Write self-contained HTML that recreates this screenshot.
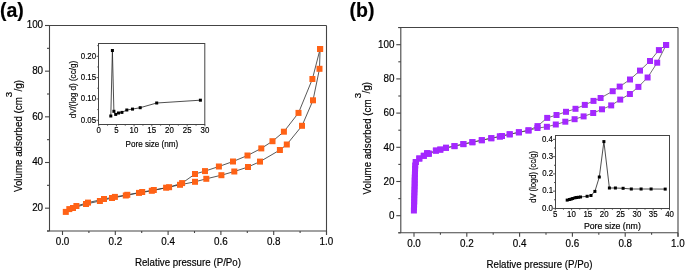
<!DOCTYPE html>
<html><head><meta charset="utf-8"><style>
html,body{margin:0;padding:0;background:#fff;}
svg{display:block;will-change:transform;}
text{font-family:"Liberation Sans", sans-serif;fill:#000;stroke:#000;stroke-width:0.18px;}
</style></head><body>
<svg width="685" height="271" viewBox="0 0 685 271">
<rect width="685" height="271" fill="#fff"/>
<g id="axes" shape-rendering="auto">
<line x1="49.50" y1="25.50" x2="49.50" y2="231.00" stroke="#444444" stroke-width="1.1"/>
<line x1="45.00" y1="25.50" x2="326.50" y2="25.50" stroke="#444444" stroke-width="1.1"/>
<line x1="326.50" y1="25.50" x2="326.50" y2="235.00" stroke="#444444" stroke-width="1.1"/>
<line x1="47.00" y1="231.00" x2="326.50" y2="231.00" stroke="#444444" stroke-width="1.1"/>
<line x1="45.00" y1="208.17" x2="49.50" y2="208.17" stroke="#444444" stroke-width="1.1"/>
<line x1="45.00" y1="162.50" x2="49.50" y2="162.50" stroke="#444444" stroke-width="1.1"/>
<line x1="45.00" y1="116.83" x2="49.50" y2="116.83" stroke="#444444" stroke-width="1.1"/>
<line x1="45.00" y1="71.17" x2="49.50" y2="71.17" stroke="#444444" stroke-width="1.1"/>
<line x1="45.00" y1="25.50" x2="49.50" y2="25.50" stroke="#444444" stroke-width="1.1"/>
<line x1="47.00" y1="231.00" x2="49.50" y2="231.00" stroke="#444444" stroke-width="1.1"/>
<line x1="47.00" y1="185.33" x2="49.50" y2="185.33" stroke="#444444" stroke-width="1.1"/>
<line x1="47.00" y1="139.67" x2="49.50" y2="139.67" stroke="#444444" stroke-width="1.1"/>
<line x1="47.00" y1="94.00" x2="49.50" y2="94.00" stroke="#444444" stroke-width="1.1"/>
<line x1="47.00" y1="48.33" x2="49.50" y2="48.33" stroke="#444444" stroke-width="1.1"/>
<line x1="62.50" y1="231.00" x2="62.50" y2="235.00" stroke="#444444" stroke-width="1.1"/>
<line x1="88.90" y1="231.00" x2="88.90" y2="233.00" stroke="#444444" stroke-width="1.1"/>
<line x1="115.30" y1="231.00" x2="115.30" y2="235.00" stroke="#444444" stroke-width="1.1"/>
<line x1="141.70" y1="231.00" x2="141.70" y2="233.00" stroke="#444444" stroke-width="1.1"/>
<line x1="168.10" y1="231.00" x2="168.10" y2="235.00" stroke="#444444" stroke-width="1.1"/>
<line x1="194.50" y1="231.00" x2="194.50" y2="233.00" stroke="#444444" stroke-width="1.1"/>
<line x1="220.90" y1="231.00" x2="220.90" y2="235.00" stroke="#444444" stroke-width="1.1"/>
<line x1="247.30" y1="231.00" x2="247.30" y2="233.00" stroke="#444444" stroke-width="1.1"/>
<line x1="273.70" y1="231.00" x2="273.70" y2="235.00" stroke="#444444" stroke-width="1.1"/>
<line x1="300.10" y1="231.00" x2="300.10" y2="233.00" stroke="#444444" stroke-width="1.1"/>
<line x1="326.50" y1="231.00" x2="326.50" y2="235.00" stroke="#444444" stroke-width="1.1"/>
<line x1="400.80" y1="27.50" x2="400.80" y2="232.80" stroke="#444444" stroke-width="1.1"/>
<line x1="398.30" y1="27.50" x2="678.00" y2="27.50" stroke="#444444" stroke-width="1.1"/>
<line x1="678.00" y1="27.50" x2="678.00" y2="236.80" stroke="#444444" stroke-width="1.1"/>
<line x1="398.30" y1="232.80" x2="678.00" y2="232.80" stroke="#444444" stroke-width="1.1"/>
<line x1="396.30" y1="215.70" x2="400.80" y2="215.70" stroke="#444444" stroke-width="1.1"/>
<line x1="396.30" y1="181.50" x2="400.80" y2="181.50" stroke="#444444" stroke-width="1.1"/>
<line x1="396.30" y1="147.30" x2="400.80" y2="147.30" stroke="#444444" stroke-width="1.1"/>
<line x1="396.30" y1="113.10" x2="400.80" y2="113.10" stroke="#444444" stroke-width="1.1"/>
<line x1="396.30" y1="78.90" x2="400.80" y2="78.90" stroke="#444444" stroke-width="1.1"/>
<line x1="396.30" y1="44.70" x2="400.80" y2="44.70" stroke="#444444" stroke-width="1.1"/>
<line x1="398.30" y1="232.80" x2="400.80" y2="232.80" stroke="#444444" stroke-width="1.1"/>
<line x1="398.30" y1="198.60" x2="400.80" y2="198.60" stroke="#444444" stroke-width="1.1"/>
<line x1="398.30" y1="164.40" x2="400.80" y2="164.40" stroke="#444444" stroke-width="1.1"/>
<line x1="398.30" y1="130.20" x2="400.80" y2="130.20" stroke="#444444" stroke-width="1.1"/>
<line x1="398.30" y1="96.00" x2="400.80" y2="96.00" stroke="#444444" stroke-width="1.1"/>
<line x1="398.30" y1="61.80" x2="400.80" y2="61.80" stroke="#444444" stroke-width="1.1"/>
<line x1="398.30" y1="27.60" x2="400.80" y2="27.60" stroke="#444444" stroke-width="1.1"/>
<line x1="414.00" y1="232.80" x2="414.00" y2="236.80" stroke="#444444" stroke-width="1.1"/>
<line x1="440.40" y1="232.80" x2="440.40" y2="234.80" stroke="#444444" stroke-width="1.1"/>
<line x1="466.80" y1="232.80" x2="466.80" y2="236.80" stroke="#444444" stroke-width="1.1"/>
<line x1="493.20" y1="232.80" x2="493.20" y2="234.80" stroke="#444444" stroke-width="1.1"/>
<line x1="519.60" y1="232.80" x2="519.60" y2="236.80" stroke="#444444" stroke-width="1.1"/>
<line x1="546.00" y1="232.80" x2="546.00" y2="234.80" stroke="#444444" stroke-width="1.1"/>
<line x1="572.40" y1="232.80" x2="572.40" y2="236.80" stroke="#444444" stroke-width="1.1"/>
<line x1="598.80" y1="232.80" x2="598.80" y2="234.80" stroke="#444444" stroke-width="1.1"/>
<line x1="625.20" y1="232.80" x2="625.20" y2="236.80" stroke="#444444" stroke-width="1.1"/>
<line x1="651.60" y1="232.80" x2="651.60" y2="234.80" stroke="#444444" stroke-width="1.1"/>
<line x1="678.00" y1="232.80" x2="678.00" y2="236.80" stroke="#444444" stroke-width="1.1"/>
<rect x="98.5" y="43.5" width="106.30000000000001" height="81.0" fill="#fff" stroke="#444444" stroke-width="1"/>
<line x1="96.50" y1="120.24" x2="98.50" y2="120.24" stroke="#444444" stroke-width="0.9"/>
<line x1="97.30" y1="109.58" x2="98.50" y2="109.58" stroke="#444444" stroke-width="0.9"/>
<line x1="96.50" y1="98.92" x2="98.50" y2="98.92" stroke="#444444" stroke-width="0.9"/>
<line x1="97.30" y1="88.26" x2="98.50" y2="88.26" stroke="#444444" stroke-width="0.9"/>
<line x1="96.50" y1="77.61" x2="98.50" y2="77.61" stroke="#444444" stroke-width="0.9"/>
<line x1="97.30" y1="66.95" x2="98.50" y2="66.95" stroke="#444444" stroke-width="0.9"/>
<line x1="96.50" y1="56.29" x2="98.50" y2="56.29" stroke="#444444" stroke-width="0.9"/>
<line x1="97.30" y1="45.63" x2="98.50" y2="45.63" stroke="#444444" stroke-width="0.9"/>
<line x1="98.70" y1="124.50" x2="98.70" y2="126.30" stroke="#444444" stroke-width="0.9"/>
<line x1="116.40" y1="124.50" x2="116.40" y2="126.30" stroke="#444444" stroke-width="0.9"/>
<line x1="134.10" y1="124.50" x2="134.10" y2="126.30" stroke="#444444" stroke-width="0.9"/>
<line x1="151.80" y1="124.50" x2="151.80" y2="126.30" stroke="#444444" stroke-width="0.9"/>
<line x1="169.50" y1="124.50" x2="169.50" y2="126.30" stroke="#444444" stroke-width="0.9"/>
<line x1="187.20" y1="124.50" x2="187.20" y2="126.30" stroke="#444444" stroke-width="0.9"/>
<line x1="204.90" y1="124.50" x2="204.90" y2="126.30" stroke="#444444" stroke-width="0.9"/>
<line x1="107.55" y1="124.50" x2="107.55" y2="125.70" stroke="#444444" stroke-width="0.9"/>
<line x1="125.25" y1="124.50" x2="125.25" y2="125.70" stroke="#444444" stroke-width="0.9"/>
<line x1="142.95" y1="124.50" x2="142.95" y2="125.70" stroke="#444444" stroke-width="0.9"/>
<line x1="160.65" y1="124.50" x2="160.65" y2="125.70" stroke="#444444" stroke-width="0.9"/>
<line x1="178.35" y1="124.50" x2="178.35" y2="125.70" stroke="#444444" stroke-width="0.9"/>
<line x1="196.05" y1="124.50" x2="196.05" y2="125.70" stroke="#444444" stroke-width="0.9"/>
<rect x="555.5" y="135.5" width="114.0" height="73.0" fill="#fff" stroke="#444444" stroke-width="1"/>
<line x1="553.00" y1="208.40" x2="555.50" y2="208.40" stroke="#444444" stroke-width="0.9"/>
<line x1="553.00" y1="191.15" x2="555.50" y2="191.15" stroke="#444444" stroke-width="0.9"/>
<line x1="553.00" y1="173.90" x2="555.50" y2="173.90" stroke="#444444" stroke-width="0.9"/>
<line x1="553.00" y1="156.65" x2="555.50" y2="156.65" stroke="#444444" stroke-width="0.9"/>
<line x1="553.00" y1="139.40" x2="555.50" y2="139.40" stroke="#444444" stroke-width="0.9"/>
<line x1="554.00" y1="199.78" x2="555.50" y2="199.78" stroke="#444444" stroke-width="0.9"/>
<line x1="554.00" y1="182.53" x2="555.50" y2="182.53" stroke="#444444" stroke-width="0.9"/>
<line x1="554.00" y1="165.28" x2="555.50" y2="165.28" stroke="#444444" stroke-width="0.9"/>
<line x1="554.00" y1="148.03" x2="555.50" y2="148.03" stroke="#444444" stroke-width="0.9"/>
<line x1="555.30" y1="208.50" x2="555.30" y2="210.30" stroke="#444444" stroke-width="0.9"/>
<line x1="571.62" y1="208.50" x2="571.62" y2="210.30" stroke="#444444" stroke-width="0.9"/>
<line x1="587.93" y1="208.50" x2="587.93" y2="210.30" stroke="#444444" stroke-width="0.9"/>
<line x1="604.25" y1="208.50" x2="604.25" y2="210.30" stroke="#444444" stroke-width="0.9"/>
<line x1="620.56" y1="208.50" x2="620.56" y2="210.30" stroke="#444444" stroke-width="0.9"/>
<line x1="636.88" y1="208.50" x2="636.88" y2="210.30" stroke="#444444" stroke-width="0.9"/>
<line x1="653.19" y1="208.50" x2="653.19" y2="210.30" stroke="#444444" stroke-width="0.9"/>
<line x1="669.50" y1="208.50" x2="669.50" y2="210.30" stroke="#444444" stroke-width="0.9"/>
<line x1="563.46" y1="208.50" x2="563.46" y2="209.70" stroke="#444444" stroke-width="0.9"/>
<line x1="579.77" y1="208.50" x2="579.77" y2="209.70" stroke="#444444" stroke-width="0.9"/>
<line x1="596.09" y1="208.50" x2="596.09" y2="209.70" stroke="#444444" stroke-width="0.9"/>
<line x1="612.40" y1="208.50" x2="612.40" y2="209.70" stroke="#444444" stroke-width="0.9"/>
<line x1="628.72" y1="208.50" x2="628.72" y2="209.70" stroke="#444444" stroke-width="0.9"/>
<line x1="645.03" y1="208.50" x2="645.03" y2="209.70" stroke="#444444" stroke-width="0.9"/>
<line x1="661.35" y1="208.50" x2="661.35" y2="209.70" stroke="#444444" stroke-width="0.9"/>
</g>
<g id="data">
<polyline fill="none" stroke="#3a3a3a" stroke-width="0.85" points="65.8,211.9 73.0,208.0 86.0,204.0 99.9,201.0 112.0,198.0 125.8,195.5 139.0,192.9 151.8,190.8 166.1,187.7 180.0,184.8 195.0,181.8 206.3,178.8 221.4,175.2 234.3,171.5 248.0,167.0 260.0,161.6 279.9,150.0 286.8,144.5 302.0,125.8 313.0,100.3 319.5,68.8 320.1,49.0"/>
<polyline fill="none" stroke="#3a3a3a" stroke-width="0.85" points="320.1,49.0 312.4,79.0 298.5,112.9 283.9,131.7 272.5,141.2 261.3,148.4 247.5,155.5 233.0,161.5 218.9,166.5 205.0,171.1 195.0,174.0 182.1,183.1 169.1,187.2 153.8,190.0 142.2,192.0 127.3,194.8 114.9,196.9 104.0,199.0 88.0,202.6 76.4,206.0 69.3,209.1"/>
<rect x="62.8" y="208.9" width="6" height="6" fill="#FF6216"/>
<rect x="70.0" y="205.0" width="6" height="6" fill="#FF6216"/>
<rect x="83.0" y="201.0" width="6" height="6" fill="#FF6216"/>
<rect x="96.9" y="198.0" width="6" height="6" fill="#FF6216"/>
<rect x="109.0" y="195.0" width="6" height="6" fill="#FF6216"/>
<rect x="122.8" y="192.5" width="6" height="6" fill="#FF6216"/>
<rect x="136.0" y="189.9" width="6" height="6" fill="#FF6216"/>
<rect x="148.8" y="187.8" width="6" height="6" fill="#FF6216"/>
<rect x="163.1" y="184.7" width="6" height="6" fill="#FF6216"/>
<rect x="177.0" y="181.8" width="6" height="6" fill="#FF6216"/>
<rect x="192.0" y="178.8" width="6" height="6" fill="#FF6216"/>
<rect x="203.3" y="175.8" width="6" height="6" fill="#FF6216"/>
<rect x="218.4" y="172.2" width="6" height="6" fill="#FF6216"/>
<rect x="231.3" y="168.5" width="6" height="6" fill="#FF6216"/>
<rect x="245.0" y="164.0" width="6" height="6" fill="#FF6216"/>
<rect x="257.0" y="158.6" width="6" height="6" fill="#FF6216"/>
<rect x="276.9" y="147.0" width="6" height="6" fill="#FF6216"/>
<rect x="283.8" y="141.5" width="6" height="6" fill="#FF6216"/>
<rect x="299.0" y="122.8" width="6" height="6" fill="#FF6216"/>
<rect x="310.0" y="97.3" width="6" height="6" fill="#FF6216"/>
<rect x="316.5" y="65.8" width="6" height="6" fill="#FF6216"/>
<rect x="317.1" y="46.0" width="6" height="6" fill="#FF6216"/>
<rect x="317.1" y="46.0" width="6" height="6" fill="#FF6216"/>
<rect x="309.4" y="76.0" width="6" height="6" fill="#FF6216"/>
<rect x="295.5" y="109.9" width="6" height="6" fill="#FF6216"/>
<rect x="280.9" y="128.7" width="6" height="6" fill="#FF6216"/>
<rect x="269.5" y="138.2" width="6" height="6" fill="#FF6216"/>
<rect x="258.3" y="145.4" width="6" height="6" fill="#FF6216"/>
<rect x="244.5" y="152.5" width="6" height="6" fill="#FF6216"/>
<rect x="230.0" y="158.5" width="6" height="6" fill="#FF6216"/>
<rect x="215.9" y="163.5" width="6" height="6" fill="#FF6216"/>
<rect x="202.0" y="168.1" width="6" height="6" fill="#FF6216"/>
<rect x="192.0" y="171.0" width="6" height="6" fill="#FF6216"/>
<rect x="179.1" y="180.1" width="6" height="6" fill="#FF6216"/>
<rect x="166.1" y="184.2" width="6" height="6" fill="#FF6216"/>
<rect x="150.8" y="187.0" width="6" height="6" fill="#FF6216"/>
<rect x="139.2" y="189.0" width="6" height="6" fill="#FF6216"/>
<rect x="124.3" y="191.8" width="6" height="6" fill="#FF6216"/>
<rect x="111.9" y="193.9" width="6" height="6" fill="#FF6216"/>
<rect x="101.0" y="196.0" width="6" height="6" fill="#FF6216"/>
<rect x="85.0" y="199.6" width="6" height="6" fill="#FF6216"/>
<rect x="73.4" y="203.0" width="6" height="6" fill="#FF6216"/>
<rect x="66.3" y="206.1" width="6" height="6" fill="#FF6216"/>
<polyline fill="none" stroke="#444" stroke-width="0.75" points="413.9,210.5 414.0,207.5 414.1,204.5 414.2,201.5 414.2,198.5 414.3,195.5 414.4,192.5 414.5,189.5 414.6,186.5 414.7,183.5 414.7,180.5 414.8,177.5 414.9,174.5 415.0,171.5 415.1,168.5 415.2,165.5 415.8,162.0 419.3,158.5 423.8,155.8 427.1,153.3 428.8,153.7 435.9,150.6 440.3,149.6 446.0,147.8 454.5,146.1 463.4,144.1 472.4,142.2 481.8,140.2 491.3,138.2 499.9,136.5 502.0,136.0 509.7,134.3 518.9,132.3 528.5,130.4 537.5,128.0 546.9,126.8 555.8,124.5 565.3,121.7 574.6,119.2 583.6,116.4 593.2,113.0 602.0,109.3 611.2,105.4 620.2,99.6 629.9,94.0 638.4,86.9 647.6,77.5 657.2,62.7 666.1,45.0"/>
<polyline fill="none" stroke="#444" stroke-width="0.75" points="666.1,45.0 658.9,50.1 650.0,61.0 640.0,70.6 630.0,79.5 619.7,86.6 612.7,91.2 600.6,98.0 593.5,100.9 584.8,104.9 575.5,108.8 566.0,111.8 556.5,115.0 547.2,117.9 537.5,126.1 528.5,130.4 518.9,132.3 509.7,134.3 502.0,136.0 499.9,136.5 491.3,138.2 481.8,140.2 472.4,142.2 463.4,144.1 454.5,146.1 446.0,147.8 440.3,149.6 435.9,150.6 428.8,153.7 427.1,153.3 423.8,155.8 419.3,158.5 415.8,162.0"/>
<rect x="410.9" y="207.5" width="6" height="6" fill="#A428FF"/>
<rect x="411.0" y="204.5" width="6" height="6" fill="#A428FF"/>
<rect x="411.1" y="201.5" width="6" height="6" fill="#A428FF"/>
<rect x="411.2" y="198.5" width="6" height="6" fill="#A428FF"/>
<rect x="411.2" y="195.5" width="6" height="6" fill="#A428FF"/>
<rect x="411.3" y="192.5" width="6" height="6" fill="#A428FF"/>
<rect x="411.4" y="189.5" width="6" height="6" fill="#A428FF"/>
<rect x="411.5" y="186.5" width="6" height="6" fill="#A428FF"/>
<rect x="411.6" y="183.5" width="6" height="6" fill="#A428FF"/>
<rect x="411.7" y="180.5" width="6" height="6" fill="#A428FF"/>
<rect x="411.7" y="177.5" width="6" height="6" fill="#A428FF"/>
<rect x="411.8" y="174.5" width="6" height="6" fill="#A428FF"/>
<rect x="411.9" y="171.5" width="6" height="6" fill="#A428FF"/>
<rect x="412.0" y="168.5" width="6" height="6" fill="#A428FF"/>
<rect x="412.1" y="165.5" width="6" height="6" fill="#A428FF"/>
<rect x="412.2" y="162.5" width="6" height="6" fill="#A428FF"/>
<rect x="412.8" y="159.0" width="6" height="6" fill="#A428FF"/>
<rect x="416.3" y="155.5" width="6" height="6" fill="#A428FF"/>
<rect x="420.8" y="152.8" width="6" height="6" fill="#A428FF"/>
<rect x="424.1" y="150.3" width="6" height="6" fill="#A428FF"/>
<rect x="425.8" y="150.7" width="6" height="6" fill="#A428FF"/>
<rect x="432.9" y="147.6" width="6" height="6" fill="#A428FF"/>
<rect x="437.3" y="146.6" width="6" height="6" fill="#A428FF"/>
<rect x="443.0" y="144.8" width="6" height="6" fill="#A428FF"/>
<rect x="451.5" y="143.1" width="6" height="6" fill="#A428FF"/>
<rect x="460.4" y="141.1" width="6" height="6" fill="#A428FF"/>
<rect x="469.4" y="139.2" width="6" height="6" fill="#A428FF"/>
<rect x="478.8" y="137.2" width="6" height="6" fill="#A428FF"/>
<rect x="488.3" y="135.2" width="6" height="6" fill="#A428FF"/>
<rect x="496.9" y="133.5" width="6" height="6" fill="#A428FF"/>
<rect x="499.0" y="133.0" width="6" height="6" fill="#A428FF"/>
<rect x="506.7" y="131.3" width="6" height="6" fill="#A428FF"/>
<rect x="515.9" y="129.3" width="6" height="6" fill="#A428FF"/>
<rect x="525.5" y="127.4" width="6" height="6" fill="#A428FF"/>
<rect x="534.5" y="125.0" width="6" height="6" fill="#A428FF"/>
<rect x="543.9" y="123.8" width="6" height="6" fill="#A428FF"/>
<rect x="552.8" y="121.5" width="6" height="6" fill="#A428FF"/>
<rect x="562.3" y="118.7" width="6" height="6" fill="#A428FF"/>
<rect x="571.6" y="116.2" width="6" height="6" fill="#A428FF"/>
<rect x="580.6" y="113.4" width="6" height="6" fill="#A428FF"/>
<rect x="590.2" y="110.0" width="6" height="6" fill="#A428FF"/>
<rect x="599.0" y="106.3" width="6" height="6" fill="#A428FF"/>
<rect x="608.2" y="102.4" width="6" height="6" fill="#A428FF"/>
<rect x="617.2" y="96.6" width="6" height="6" fill="#A428FF"/>
<rect x="626.9" y="91.0" width="6" height="6" fill="#A428FF"/>
<rect x="635.4" y="83.9" width="6" height="6" fill="#A428FF"/>
<rect x="644.6" y="74.5" width="6" height="6" fill="#A428FF"/>
<rect x="654.2" y="59.7" width="6" height="6" fill="#A428FF"/>
<rect x="663.1" y="42.0" width="6" height="6" fill="#A428FF"/>
<rect x="663.1" y="42.0" width="6" height="6" fill="#A428FF"/>
<rect x="655.9" y="47.1" width="6" height="6" fill="#A428FF"/>
<rect x="647.0" y="58.0" width="6" height="6" fill="#A428FF"/>
<rect x="637.0" y="67.6" width="6" height="6" fill="#A428FF"/>
<rect x="627.0" y="76.5" width="6" height="6" fill="#A428FF"/>
<rect x="616.7" y="83.6" width="6" height="6" fill="#A428FF"/>
<rect x="609.7" y="88.2" width="6" height="6" fill="#A428FF"/>
<rect x="597.6" y="95.0" width="6" height="6" fill="#A428FF"/>
<rect x="590.5" y="97.9" width="6" height="6" fill="#A428FF"/>
<rect x="581.8" y="101.9" width="6" height="6" fill="#A428FF"/>
<rect x="572.5" y="105.8" width="6" height="6" fill="#A428FF"/>
<rect x="563.0" y="108.8" width="6" height="6" fill="#A428FF"/>
<rect x="553.5" y="112.0" width="6" height="6" fill="#A428FF"/>
<rect x="544.2" y="114.9" width="6" height="6" fill="#A428FF"/>
<rect x="534.5" y="123.1" width="6" height="6" fill="#A428FF"/>
<rect x="525.5" y="127.4" width="6" height="6" fill="#A428FF"/>
<rect x="515.9" y="129.3" width="6" height="6" fill="#A428FF"/>
<rect x="506.7" y="131.3" width="6" height="6" fill="#A428FF"/>
<rect x="499.0" y="133.0" width="6" height="6" fill="#A428FF"/>
<rect x="496.9" y="133.5" width="6" height="6" fill="#A428FF"/>
<rect x="488.3" y="135.2" width="6" height="6" fill="#A428FF"/>
<rect x="478.8" y="137.2" width="6" height="6" fill="#A428FF"/>
<rect x="469.4" y="139.2" width="6" height="6" fill="#A428FF"/>
<rect x="460.4" y="141.1" width="6" height="6" fill="#A428FF"/>
<rect x="451.5" y="143.1" width="6" height="6" fill="#A428FF"/>
<rect x="443.0" y="144.8" width="6" height="6" fill="#A428FF"/>
<rect x="437.3" y="146.6" width="6" height="6" fill="#A428FF"/>
<rect x="432.9" y="147.6" width="6" height="6" fill="#A428FF"/>
<rect x="425.8" y="150.7" width="6" height="6" fill="#A428FF"/>
<rect x="424.1" y="150.3" width="6" height="6" fill="#A428FF"/>
<rect x="420.8" y="152.8" width="6" height="6" fill="#A428FF"/>
<rect x="416.3" y="155.5" width="6" height="6" fill="#A428FF"/>
<rect x="412.8" y="159.0" width="6" height="6" fill="#A428FF"/>
</g>
<g id="inset">
<polyline fill="none" stroke="#222" stroke-width="0.8" points="110.8,116.0 112.4,50.5 113.9,111.3 115.7,114.4 118.5,113.0 121.9,112.4 126.8,110.0 132.5,109.1 140.2,107.7 156.7,103.0 200.4,100.2"/>
<rect x="109.3" y="114.5" width="3" height="3" fill="#000"/>
<rect x="110.9" y="49.0" width="3" height="3" fill="#000"/>
<rect x="112.4" y="109.8" width="3" height="3" fill="#000"/>
<rect x="114.2" y="112.9" width="3" height="3" fill="#000"/>
<rect x="117.0" y="111.5" width="3" height="3" fill="#000"/>
<rect x="120.4" y="110.9" width="3" height="3" fill="#000"/>
<rect x="125.3" y="108.5" width="3" height="3" fill="#000"/>
<rect x="131.0" y="107.6" width="3" height="3" fill="#000"/>
<rect x="138.7" y="106.2" width="3" height="3" fill="#000"/>
<rect x="155.2" y="101.5" width="3" height="3" fill="#000"/>
<rect x="198.9" y="98.7" width="3" height="3" fill="#000"/>
<polyline fill="none" stroke="#222" stroke-width="0.8" points="567.2,200.1 569.4,199.5 571.1,199.1 572.7,198.5 575.0,197.8 576.6,197.5 578.3,197.3 580.5,197.0 587.1,196.3 591.0,195.5 594.9,191.4 599.3,177.0 603.9,141.6 609.4,188.0 615.4,188.0 623.1,188.3 631.3,189.0 641.1,189.0 651.1,189.0 665.2,189.1"/>
<rect x="565.7" y="198.6" width="3" height="3" fill="#000"/>
<rect x="567.9" y="198.0" width="3" height="3" fill="#000"/>
<rect x="569.6" y="197.6" width="3" height="3" fill="#000"/>
<rect x="571.2" y="197.0" width="3" height="3" fill="#000"/>
<rect x="573.5" y="196.3" width="3" height="3" fill="#000"/>
<rect x="575.1" y="196.0" width="3" height="3" fill="#000"/>
<rect x="576.8" y="195.8" width="3" height="3" fill="#000"/>
<rect x="579.0" y="195.5" width="3" height="3" fill="#000"/>
<rect x="585.6" y="194.8" width="3" height="3" fill="#000"/>
<rect x="589.5" y="194.0" width="3" height="3" fill="#000"/>
<rect x="593.4" y="189.9" width="3" height="3" fill="#000"/>
<rect x="597.8" y="175.5" width="3" height="3" fill="#000"/>
<rect x="602.4" y="140.1" width="3" height="3" fill="#000"/>
<rect x="607.9" y="186.5" width="3" height="3" fill="#000"/>
<rect x="613.9" y="186.5" width="3" height="3" fill="#000"/>
<rect x="621.6" y="186.8" width="3" height="3" fill="#000"/>
<rect x="629.8" y="187.5" width="3" height="3" fill="#000"/>
<rect x="639.6" y="187.5" width="3" height="3" fill="#000"/>
<rect x="649.6" y="187.5" width="3" height="3" fill="#000"/>
<rect x="663.7" y="187.6" width="3" height="3" fill="#000"/>
</g>
<g id="txt">
<text x="0.0" y="16.7" font-size="19.5" text-anchor="start" font-weight="bold">(a)</text>
<text x="349.6" y="16.7" font-size="19.5" text-anchor="start" font-weight="bold">(b)</text>
<text x="32.14" y="210.87" font-size="10.7" text-anchor="start" font-weight="normal" textLength="10.95" lengthAdjust="spacingAndGlyphs">20</text>
<text x="32.14" y="165.2" font-size="10.7" text-anchor="start" font-weight="normal" textLength="10.95" lengthAdjust="spacingAndGlyphs">40</text>
<text x="32.14" y="119.53" font-size="10.7" text-anchor="start" font-weight="normal" textLength="10.95" lengthAdjust="spacingAndGlyphs">60</text>
<text x="32.14" y="73.87" font-size="10.7" text-anchor="start" font-weight="normal" textLength="10.95" lengthAdjust="spacingAndGlyphs">80</text>
<text x="26.66" y="28.2" font-size="10.7" text-anchor="start" font-weight="normal" textLength="16.42" lengthAdjust="spacingAndGlyphs">100</text>
<text x="55.66" y="245.2" font-size="10.7" text-anchor="start" font-weight="normal" textLength="13.68" lengthAdjust="spacingAndGlyphs">0.0</text>
<text x="108.51" y="245.2" font-size="10.7" text-anchor="start" font-weight="normal" textLength="13.68" lengthAdjust="spacingAndGlyphs">0.2</text>
<text x="161.21" y="245.2" font-size="10.7" text-anchor="start" font-weight="normal" textLength="13.68" lengthAdjust="spacingAndGlyphs">0.4</text>
<text x="214.08" y="245.2" font-size="10.7" text-anchor="start" font-weight="normal" textLength="13.68" lengthAdjust="spacingAndGlyphs">0.6</text>
<text x="266.88" y="245.2" font-size="10.7" text-anchor="start" font-weight="normal" textLength="13.68" lengthAdjust="spacingAndGlyphs">0.8</text>
<text x="319.48" y="245.2" font-size="10.7" text-anchor="start" font-weight="normal" textLength="13.68" lengthAdjust="spacingAndGlyphs">1.0</text>
<text x="134.9" y="266.1" font-size="10.7" text-anchor="start" font-weight="normal" textLength="106.1" lengthAdjust="spacingAndGlyphs">Relative pressure (P/Po)</text>
<text x="21.8" y="192.04" font-size="10.7" text-anchor="start" font-weight="normal" textLength="94.88" lengthAdjust="spacingAndGlyphs" transform="rotate(-90 21.8 192.04)">Volume adsorbed (cm</text>
<text x="11.7" y="97.17" font-size="9.6" text-anchor="start" font-weight="normal" textLength="5.4" lengthAdjust="spacingAndGlyphs" transform="rotate(-90 11.7 97.17)">3</text>
<text x="21.8" y="91.5" font-size="10.7" text-anchor="start" font-weight="normal" textLength="11.72" lengthAdjust="spacingAndGlyphs" transform="rotate(-90 21.8 91.5)">/g)</text>
<text x="388.91" y="218.9" font-size="10.7" text-anchor="start" font-weight="normal" textLength="5.47" lengthAdjust="spacingAndGlyphs">0</text>
<text x="383.44" y="184.7" font-size="10.7" text-anchor="start" font-weight="normal" textLength="10.95" lengthAdjust="spacingAndGlyphs">20</text>
<text x="383.44" y="150.5" font-size="10.7" text-anchor="start" font-weight="normal" textLength="10.95" lengthAdjust="spacingAndGlyphs">40</text>
<text x="383.44" y="116.3" font-size="10.7" text-anchor="start" font-weight="normal" textLength="10.95" lengthAdjust="spacingAndGlyphs">60</text>
<text x="383.44" y="82.1" font-size="10.7" text-anchor="start" font-weight="normal" textLength="10.95" lengthAdjust="spacingAndGlyphs">80</text>
<text x="377.96" y="47.9" font-size="10.7" text-anchor="start" font-weight="normal" textLength="16.42" lengthAdjust="spacingAndGlyphs">100</text>
<text x="407.16" y="247.0" font-size="10.7" text-anchor="start" font-weight="normal" textLength="13.68" lengthAdjust="spacingAndGlyphs">0.0</text>
<text x="460.01" y="247.0" font-size="10.7" text-anchor="start" font-weight="normal" textLength="13.68" lengthAdjust="spacingAndGlyphs">0.2</text>
<text x="512.71" y="247.0" font-size="10.7" text-anchor="start" font-weight="normal" textLength="13.68" lengthAdjust="spacingAndGlyphs">0.4</text>
<text x="565.58" y="247.0" font-size="10.7" text-anchor="start" font-weight="normal" textLength="13.68" lengthAdjust="spacingAndGlyphs">0.6</text>
<text x="618.38" y="247.0" font-size="10.7" text-anchor="start" font-weight="normal" textLength="13.68" lengthAdjust="spacingAndGlyphs">0.8</text>
<text x="670.98" y="247.0" font-size="10.7" text-anchor="start" font-weight="normal" textLength="13.68" lengthAdjust="spacingAndGlyphs">1.0</text>
<text x="486.5" y="267.7" font-size="10.7" text-anchor="start" font-weight="normal" textLength="105.9" lengthAdjust="spacingAndGlyphs">Relative pressure (P/Po)</text>
<text x="370.6" y="194.44" font-size="10.7" text-anchor="start" font-weight="normal" textLength="95.08" lengthAdjust="spacingAndGlyphs" transform="rotate(-90 370.6 194.44)">Volume adsorbed (cm</text>
<text x="360.7" y="98.17" font-size="9.6" text-anchor="start" font-weight="normal" textLength="5.4" lengthAdjust="spacingAndGlyphs" transform="rotate(-90 360.7 98.17)">3</text>
<text x="370.4" y="93.5" font-size="10.7" text-anchor="start" font-weight="normal" textLength="11.72" lengthAdjust="spacingAndGlyphs" transform="rotate(-90 370.4 93.5)">/g)</text>
<text x="80.81" y="122.54" font-size="9.6" text-anchor="start" font-weight="normal" textLength="15.32" lengthAdjust="spacingAndGlyphs">0.05</text>
<text x="80.79" y="101.22" font-size="9.6" text-anchor="start" font-weight="normal" textLength="15.32" lengthAdjust="spacingAndGlyphs">0.10</text>
<text x="80.81" y="79.91" font-size="9.6" text-anchor="start" font-weight="normal" textLength="15.32" lengthAdjust="spacingAndGlyphs">0.15</text>
<text x="80.79" y="58.59" font-size="9.6" text-anchor="start" font-weight="normal" textLength="15.32" lengthAdjust="spacingAndGlyphs">0.20</text>
<text x="96.51" y="133.1" font-size="9.6" text-anchor="start" font-weight="normal" textLength="4.38" lengthAdjust="spacingAndGlyphs">0</text>
<text x="114.22" y="133.1" font-size="9.6" text-anchor="start" font-weight="normal" textLength="4.38" lengthAdjust="spacingAndGlyphs">5</text>
<text x="129.58" y="133.1" font-size="9.6" text-anchor="start" font-weight="normal" textLength="8.76" lengthAdjust="spacingAndGlyphs">10</text>
<text x="147.29" y="133.1" font-size="9.6" text-anchor="start" font-weight="normal" textLength="8.76" lengthAdjust="spacingAndGlyphs">15</text>
<text x="165.08" y="133.1" font-size="9.6" text-anchor="start" font-weight="normal" textLength="8.76" lengthAdjust="spacingAndGlyphs">20</text>
<text x="182.79" y="133.1" font-size="9.6" text-anchor="start" font-weight="normal" textLength="8.76" lengthAdjust="spacingAndGlyphs">25</text>
<text x="200.53" y="133.1" font-size="9.6" text-anchor="start" font-weight="normal" textLength="8.76" lengthAdjust="spacingAndGlyphs">30</text>
<text x="125.54" y="146.5" font-size="9.0" text-anchor="start" font-weight="normal" textLength="52.67" lengthAdjust="spacingAndGlyphs">Pore size (nm)</text>
<text x="76.4" y="118.24" font-size="9.8" text-anchor="start" font-weight="normal" textLength="57.34" lengthAdjust="spacingAndGlyphs" transform="rotate(-90 76.4 118.24)">dV/(log d) (cc/g)</text>
<text x="542.06" y="210.6" font-size="9.6" text-anchor="start" font-weight="normal" textLength="10.94" lengthAdjust="spacingAndGlyphs">0.0</text>
<text x="542.14" y="193.35" font-size="9.6" text-anchor="start" font-weight="normal" textLength="10.94" lengthAdjust="spacingAndGlyphs">0.1</text>
<text x="542.15" y="176.1" font-size="9.6" text-anchor="start" font-weight="normal" textLength="10.94" lengthAdjust="spacingAndGlyphs">0.2</text>
<text x="542.1" y="158.85" font-size="9.6" text-anchor="start" font-weight="normal" textLength="10.94" lengthAdjust="spacingAndGlyphs">0.3</text>
<text x="541.99" y="141.6" font-size="9.6" text-anchor="start" font-weight="normal" textLength="10.94" lengthAdjust="spacingAndGlyphs">0.4</text>
<text x="553.12" y="216.8" font-size="9.6" text-anchor="start" font-weight="normal" textLength="4.38" lengthAdjust="spacingAndGlyphs">5</text>
<text x="567.09" y="216.8" font-size="9.6" text-anchor="start" font-weight="normal" textLength="8.76" lengthAdjust="spacingAndGlyphs">10</text>
<text x="583.42" y="216.8" font-size="9.6" text-anchor="start" font-weight="normal" textLength="8.76" lengthAdjust="spacingAndGlyphs">15</text>
<text x="599.82" y="216.8" font-size="9.6" text-anchor="start" font-weight="normal" textLength="8.76" lengthAdjust="spacingAndGlyphs">20</text>
<text x="616.15" y="216.8" font-size="9.6" text-anchor="start" font-weight="normal" textLength="8.76" lengthAdjust="spacingAndGlyphs">25</text>
<text x="632.5" y="216.8" font-size="9.6" text-anchor="start" font-weight="normal" textLength="8.76" lengthAdjust="spacingAndGlyphs">30</text>
<text x="648.83" y="216.8" font-size="9.6" text-anchor="start" font-weight="normal" textLength="8.76" lengthAdjust="spacingAndGlyphs">35</text>
<text x="665.19" y="216.8" font-size="9.6" text-anchor="start" font-weight="normal" textLength="8.76" lengthAdjust="spacingAndGlyphs">40</text>
<text x="583.88" y="229.3" font-size="9.0" text-anchor="start" font-weight="normal" textLength="56.96" lengthAdjust="spacingAndGlyphs">Pore size (nm)</text>
<text x="536.4" y="202.82" font-size="9.8" text-anchor="start" font-weight="normal" textLength="51.89" lengthAdjust="spacingAndGlyphs" transform="rotate(-90 536.4 202.82)">dV (logd) (cc/g)</text>
</g>
</svg>
</body></html>
